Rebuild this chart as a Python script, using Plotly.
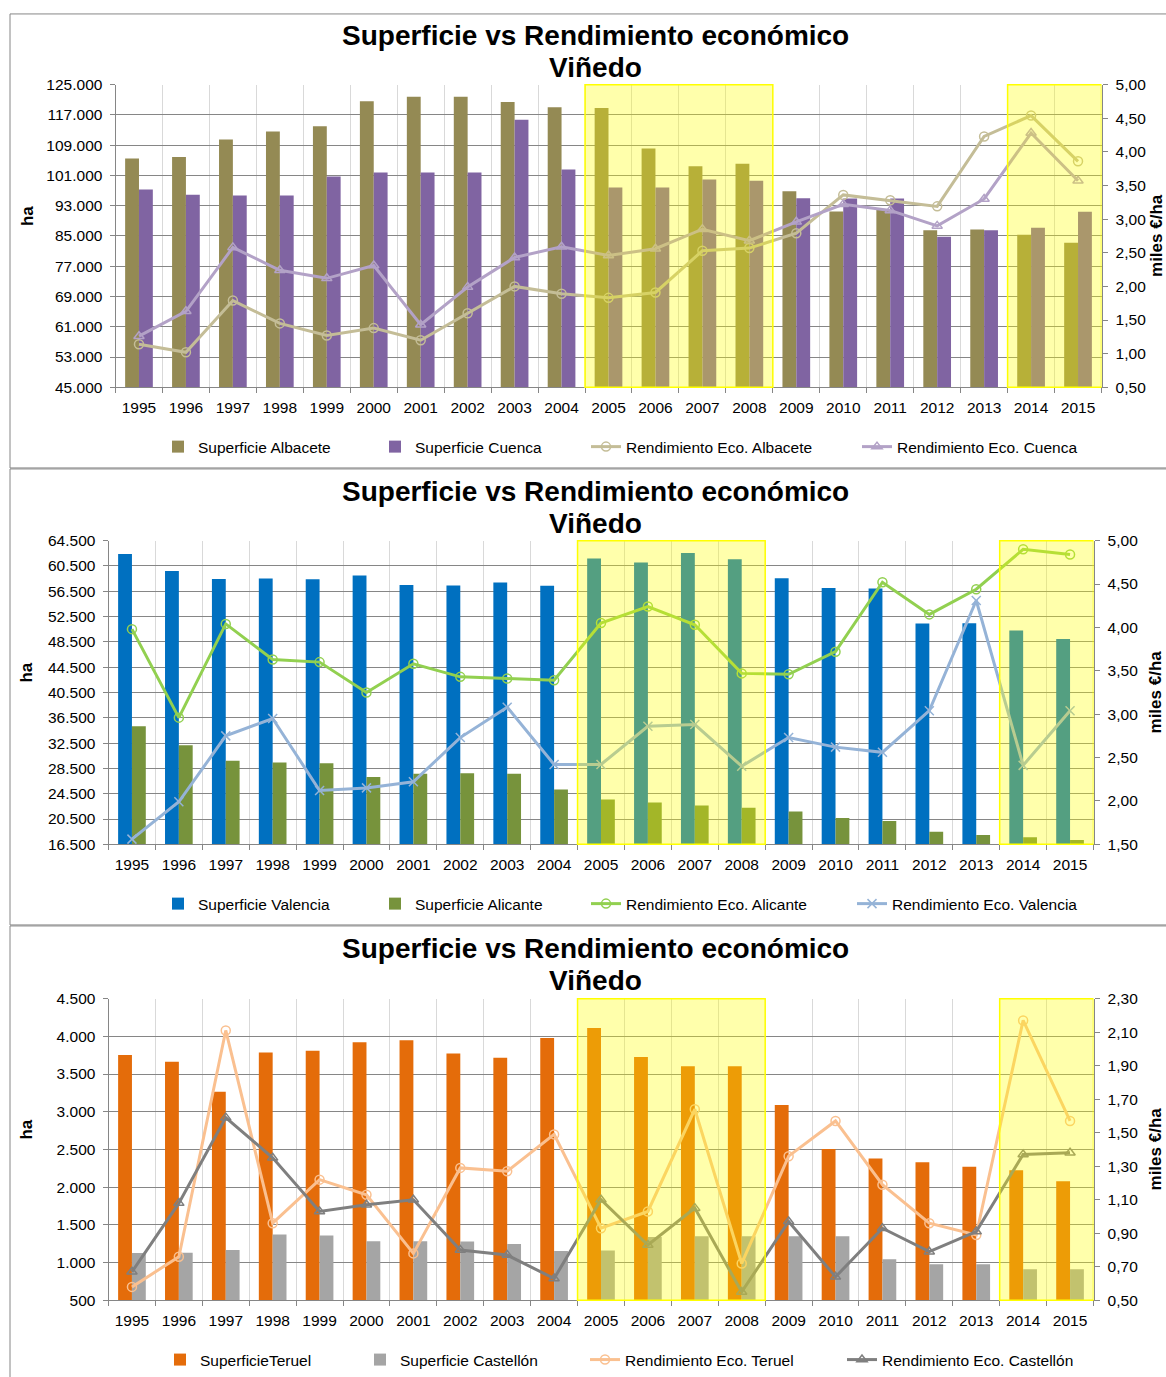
import plotly.graph_objects as go

# ---------------- data ----------------
years = [str(y) for y in range(1995, 2016)]
highlight_periods = [("2005", "2008"), ("2014", "2015")]

# Chart 1
sup_albacete = [105500, 105900, 110500, 112600, 114000, 120600, 121800, 121800, 120400, 119000,
                118800, 108100, 103400, 104100, 96800, 91500, 92000, 86500, 86700, 85300, 83200]
sup_cuenca = [97300, 95900, 95700, 95700, 100700, 101800, 101800, 101800, 115700, 102600,
              97800, 97800, 99900, 99600, 95000, 94900, 94900, 84800, 86500, 87200, 91400]
rend_albacete = [1.14, 1.02, 1.79, 1.45, 1.27, 1.38, 1.20, 1.60, 2.00, 1.89,
                 1.83, 1.91, 2.53, 2.57, 2.79, 3.36, 3.28, 3.19, 4.23, 4.54, 3.86]
rend_cuenca = [1.26, 1.63, 2.58, 2.24, 2.12, 2.31, 1.43, 1.99, 2.43, 2.59,
               2.46, 2.56, 2.85, 2.68, 2.96, 3.22, 3.13, 2.90, 3.30, 4.28, 3.57]

# Chart 2
sup_valencia = [62400, 59700, 58450, 58500, 58400, 58980, 57500, 57400, 57900, 57350,
                61660, 61030, 62550, 61560, 58560, 57030, 56930, 51410, 51460, 50300, 48940]
sup_alicante = [35160, 32170, 29700, 29430, 29330, 27120, 27650, 27750, 27650, 25170,
                23600, 23120, 22650, 22280, 21700, 20650, 20180, 18500, 17970, 17600, 17180]
rend_alicante = [3.98, 2.96, 4.04, 3.63, 3.60, 3.25, 3.58, 3.43, 3.41, 3.39,
                 4.05, 4.24, 4.03, 3.47, 3.46, 3.72, 4.52, 4.15, 4.44, 4.90, 4.84]
rend_valencia = [1.56, 1.99, 2.75, 2.95, 2.12, 2.15, 2.22, 2.73, 3.08, 2.42,
                 2.42, 2.86, 2.88, 2.40, 2.73, 2.62, 2.56, 3.04, 4.31, 2.41, 3.04]

# Chart 3
sup_teruel = [3751, 3663, 3265, 3786, 3808, 3922, 3948, 3773, 3716, 3979,
              4110, 3725, 3602, 3602, 3089, 2507, 2380, 2331, 2270, 2226, 2077]
sup_castellon = [1127, 1131, 1166, 1372, 1359, 1284, 1284, 1280, 1245, 1153,
                 1162, 1340, 1350, 1350, 1350, 1350, 1043, 978, 978, 912, 912]
rend_teruel = [0.58, 0.76, 2.11, 0.96, 1.22, 1.13, 0.78, 1.29, 1.27, 1.49,
               0.93, 1.03, 1.64, 0.72, 1.36, 1.57, 1.19, 0.96, 0.89, 2.17, 1.57]
rend_castellon = [0.67, 1.08, 1.59, 1.35, 1.03, 1.07, 1.10, 0.80, 0.77, 0.63,
                  1.10, 0.83, 1.05, 0.55, 0.97, 0.64, 0.93, 0.79, 0.91, 1.37, 1.38]

title_l1 = "Superficie vs Rendimiento económico"
title_l2 = "Viñedo"

# ---------------- layout helpers ----------------
W, H = 1166, 1377
FONT = "Liberation Sans, Arial, sans-serif"
AX = "#868686"


def fx(x):
    return x / W


def fy(y):
    return 1 - y / H


panels = [
    dict(left=115.5, right=1101.5, top=85, bottom=389, box=(10, 14, 470), title_y=(36, 68),
         ha_x=27, miles_x=1157, legend_y=449,
         legend_x=[158, 375, 586, 857],
         bars=[("Superficie Albacete", sup_albacete, "#948A54"),
               ("Superficie Cuenca", sup_cuenca, "#8064A2")],
         lines=[("Rendimiento Eco. Albacete", rend_albacete, "#C4BD97", "circle-open"),
                ("Rendimiento Eco. Cuenca", rend_cuenca, "#B3A2C7", "triangle-up-open")],
         yl=(45000, 125000, 8000), yr=(0.5, 5.0, 0.5, ".2f")),
    dict(left=108.5, right=1093.5, top=543, bottom=848, box=(10, 471, 929), title_y=(494, 526),
         ha_x=27, miles_x=1155, legend_y=908,
         legend_x=[158, 375, 586, 852],
         bars=[("Superficie Valencia", sup_valencia, "#0070C0"),
               ("Superficie Alicante", sup_alicante, "#77933C")],
         lines=[("Rendimiento Eco. Alicante", rend_alicante, "#92D050", "circle-open"),
                ("Rendimiento Eco. Valencia", rend_valencia, "#95B3D7", "x-thin-open")],
         yl=(16500, 64500, 4000), yr=(1.5, 5.0, 0.5, ".2f")),
    dict(left=108.5, right=1093.5, top=1003, bottom=1306, box=(10, 930, 1400), title_y=(953, 985),
         ha_x=27, miles_x=1155, legend_y=1366,
         legend_x=[160, 360, 585, 842],
         bars=[("SuperficieTeruel", sup_teruel, "#E46C0A"),
               ("Superficie Castellón", sup_castellon, "#A5A5A5")],
         lines=[("Rendimiento Eco. Teruel", rend_teruel, "#FAC090", "circle-open"),
                ("Rendimiento Eco. Castellón", rend_castellon, "#7F7F7F", "triangle-up-open")],
         yl=(500, 4500, 500), yr=(0.5, 2.3, 0.2, ".2f")),
]

fig = go.Figure()
layout = dict(
    width=W, height=H, autosize=False,
    margin=dict(l=0, r=0, t=0, b=0),
    paper_bgcolor="white", plot_bgcolor="white",
    barmode="group", bargap=0.41, bargroupgap=0,
    separators=",.",
    font=dict(family=FONT, size=15.5, color="black"),
    showlegend=True,
    shapes=[], annotations=[],
)

tick_font = dict(family=FONT, size=15.5, color="black")
legend_count = 0

for i, p in enumerate(panels):
    n = i + 1
    xa = "xaxis" if n == 1 else f"xaxis{n}"
    xr = "x" if n == 1 else f"x{n}"
    yl_name = 2 * n - 1
    yr_name = 2 * n
    yla = "yaxis" if yl_name == 1 else f"yaxis{yl_name}"
    ylr = "y" if yl_name == 1 else f"y{yl_name}"
    yra = f"yaxis{yr_name}"
    yrr = f"y{yr_name}"

    layout[xa] = dict(
        domain=[fx(p["left"]), fx(p["right"])], anchor=ylr,
        type="category", categoryorder="array", categoryarray=years,
        range=[-0.5, len(years) - 0.5],
        tickson="boundaries", ticks="outside", ticklen=5, tickcolor=AX,
        showline=True, linecolor=AX, linewidth=1,
        showgrid=True, gridcolor="#D9D9D9", gridwidth=1,
        tickfont=tick_font, automargin=False, fixedrange=True,
        ticklabelstandoff=6,
    )
    y0, y1, dt = p["yl"]
    layout[yla] = dict(
        domain=[fy(p["bottom"]), fy(p["top"])], anchor=xr,
        range=[y0, y1], dtick=dt, tick0=y0, tickformat=",d",
        ticks="outside", ticklen=5, tickcolor=AX,
        showline=True, linecolor=AX, linewidth=1,
        showgrid=True, gridcolor=AX, gridwidth=1, zeroline=False,
        tickfont=tick_font, automargin=False, fixedrange=True,
        ticklabelstandoff=4,
    )
    r0, r1, rdt, rfmt = p["yr"]
    layout[yra] = dict(
        overlaying=ylr, side="right", anchor=xr,
        range=[r0, r1], dtick=rdt, tick0=r0, tickformat=rfmt,
        ticks="outside", ticklen=5, tickcolor=AX,
        showline=True, linecolor=AX, linewidth=1,
        showgrid=False, zeroline=False,
        tickfont=tick_font, automargin=False, fixedrange=True,
        ticklabelstandoff=5,
    )

    traces = []
    for name, vals, col in p["bars"]:
        traces.append(go.Bar(x=years, y=vals, name=name, marker=dict(color=col, line=dict(width=0)),
                             xaxis=xr, yaxis=ylr, offsetgroup=name))
    for name, vals, col, sym in p["lines"]:
        traces.append(go.Scatter(x=years, y=vals, name=name, mode="lines+markers",
                                 line=dict(color=col, width=3),
                                 marker=dict(symbol=sym, size=9, color=col, line=dict(color=col, width=1.5)),
                                 xaxis=xr, yaxis=yrr))
    for k, tr in enumerate(traces):
        legend_count += 1
        lname = "legend" if legend_count == 1 else f"legend{legend_count}"
        tr.legend = lname
        layout[lname] = dict(
            x=fx(p["legend_x"][k]), xanchor="left",
            y=fy(p["legend_y"]), yanchor="middle",
            orientation="h", bgcolor="rgba(0,0,0,0)", borderwidth=0,
            font=dict(family=FONT, size=15.5, color="black"),
            itemclick=False, itemdoubleclick=False,
        )
        fig.add_trace(tr)

    # highlight rectangles (semi-transparent yellow over bars and lines)
    for a, b in highlight_periods:
        layout["shapes"].append(dict(
            type="rect", xref=xr, yref=f"{ylr} domain",
            x0=years.index(a) - 0.5, x1=years.index(b) + 0.5, y0=0, y1=1,
            fillcolor="rgba(255,255,0,0.33)", line=dict(color="#FFFF00", width=1.5),
            layer="above",
        ))

    # chart-area border
    bx, btop, bbot = p["box"]
    layout["shapes"].append(dict(
        type="rect", xref="paper", yref="paper",
        x0=fx(bx), x1=fx(W + 20), y0=fy(bbot), y1=fy(btop),
        line=dict(color=AX, width=1), fillcolor="rgba(0,0,0,0)", layer="below",
    ))

    # titles
    for ty, txt in zip(p["title_y"], [title_l1, title_l2]):
        layout["annotations"].append(dict(
            text=f"<b>{txt}</b>", x=fx(595), y=fy(ty), xref="paper", yref="paper",
            xanchor="center", yanchor="middle", showarrow=False,
            font=dict(family=FONT, size=28, color="black"),
        ))
    mid = (p["top"] + p["bottom"]) / 2
    layout["annotations"].append(dict(
        text="<b>ha</b>", x=fx(p["ha_x"]), y=fy(mid - 20), xref="paper", yref="paper",
        xanchor="center", yanchor="middle", showarrow=False, textangle=-90,
        font=dict(family=FONT, size=17, color="black"),
    ))
    layout["annotations"].append(dict(
        text="<b>miles €/ha</b>", x=fx(p["miles_x"]), y=fy(mid), xref="paper", yref="paper",
        xanchor="center", yanchor="middle", showarrow=False, textangle=-90,
        font=dict(family=FONT, size=17, color="black"),
    ))

fig.update_layout(**layout)
fig.write_html("out.html",
               config={"displayModeBar": False},
               post_script="document.body.style.margin='0';document.body.style.overflow='hidden';")
